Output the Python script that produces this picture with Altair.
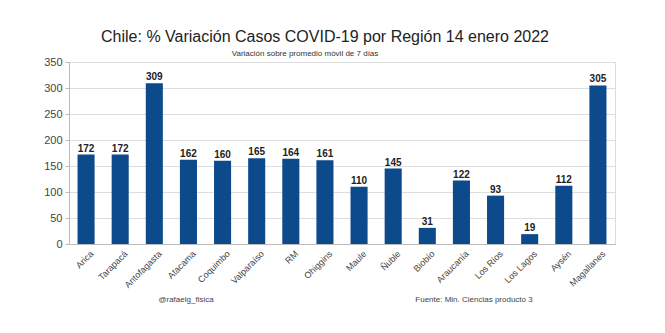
import altair as alt
import pandas as pd

regions = ["Arica", "Tarapacá", "Antofagasta", "Atacama", "Coquimbo", "Valparaíso", "RM",
           "Ohiggins", "Maule", "Ñuble", "Biobío", "Araucanía", "Los Ríos", "Los Lagos",
           "Aysén", "Magallanes"]
values = [172, 172, 309, 162, 160, 165, 164, 161, 110, 145, 31, 122, 93, 19, 112, 305]

title = "Chile: % Variación Casos COVID-19 por Región 14 enero 2022"
subtitle = "Variación sobre promedio móvil de 7 días"
credit = "@rafaelg_fisica"
source = "Fuente: Min. Ciencias producto 3"

df = pd.DataFrame({"region": regions, "value": values})

W, H = 546, 182

x = alt.X("region:N", sort=regions, title=None,
          scale=alt.Scale(paddingInner=0.5, paddingOuter=0.25),
          axis=alt.Axis(labelAngle=-45, labelFontSize=9, labelColor="#444", labelFont="Liberation Sans",
                        domainColor="#bbb", ticks=False, labelPadding=5, labelOffset=3))
y = alt.Y("value:Q", title=None,
          scale=alt.Scale(domain=[0, 350]),
          axis=alt.Axis(values=list(range(0, 351, 50)), labelOverlap=False, labelFontSize=11,
                        labelColor="#444", labelFont="Liberation Sans", gridColor="#ddd",
                        domainColor="#bbb", tickColor="#bbb", tickSize=4, labelPadding=3))

base = alt.Chart(df).encode(x=x, y=y)
bars = base.mark_bar(color="#0d4a8c")
labels = base.mark_text(dy=-6, fontSize=10, fontWeight="bold", font="Liberation Sans",
                        color="#222").encode(text="value:Q")

def txt(s, xv, yv, size, color="#222", weight="normal"):
    return alt.Chart(pd.DataFrame({"t": [s]})).mark_text(
        fontSize=size, font="Liberation Sans", color=color, fontWeight=weight, align="center"
    ).encode(x=alt.value(xv), y=alt.value(yv), text="t:N")

t1 = txt(title, 325 - 69, 37 - 62, 16)
t2 = txt(subtitle, 305 - 69, 54 - 62, 8, color="#333")
t3 = txt(credit, 186 - 69, 300 - 62, 8, color="#444")
t4 = txt(source, 474 - 69, 300 - 62, 8, color="#444")

chart = alt.layer(bars, labels, t1, t2, t3, t4).properties(
    width=W, height=H,
    autosize=alt.AutoSizeParams(type="none"),
    padding={"left": 69, "top": 62, "right": 665 - 69 - W, "bottom": 333 - 62 - H},
).configure_view(stroke="#ddd").configure(background="white")

chart.save("out.html", embed_options={"renderer": "svg", "actions": False})
